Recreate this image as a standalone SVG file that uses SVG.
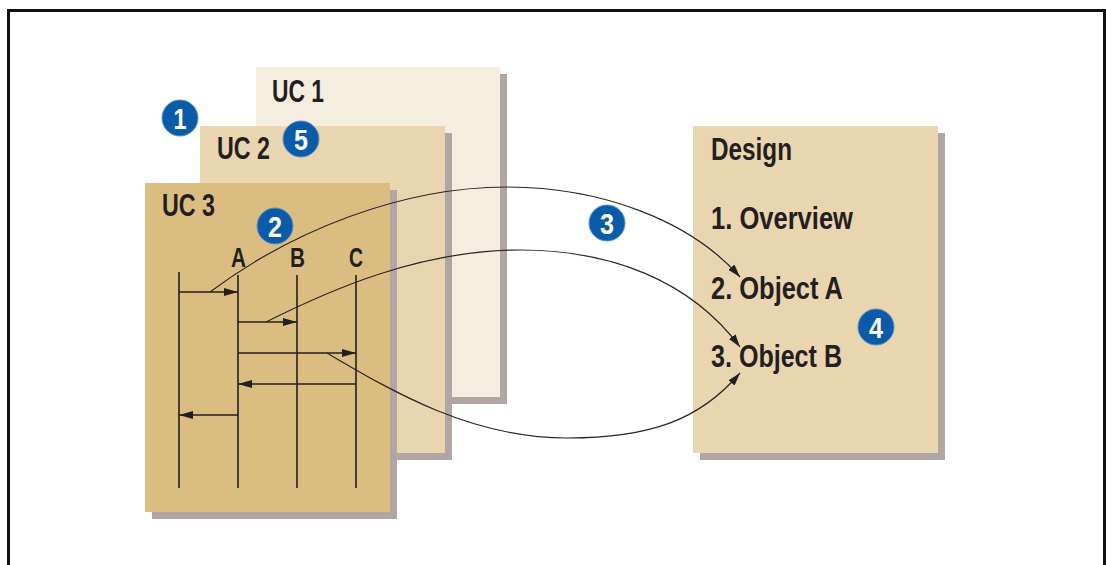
<svg xmlns="http://www.w3.org/2000/svg" width="1106" height="565" viewBox="0 0 1106 565">
  <style>
    .shadow { fill: #b2a6a4; }
    .lbl { font-family: "Liberation Sans Narrow", "Liberation Sans", Arial, sans-serif; font-weight: bold; fill: #231f20; }
    .life { stroke: #231f20; stroke-width: 1.6; fill: none; }
    .msg { stroke: #231f20; stroke-width: 1.6; fill: none; marker-end: url(#msgHead); }
    .flow { stroke: #2a2627; stroke-width: 1.2; fill: none; marker-end: url(#flowHead); }
    .badge circle { fill: #0b5ca8; stroke: #5d8fc6; stroke-width: 1; }
    .badge text { font-family: "Liberation Sans Narrow", "Liberation Sans", Arial, sans-serif; font-weight: bold; font-size: 30px; fill: #ffffff; text-anchor: middle; }
  </style>
  <defs>
    <marker id="msgHead" viewBox="0 0 14 8" refX="14" refY="4" markerWidth="14" markerHeight="8" markerUnits="userSpaceOnUse" orient="auto">
      <path d="M0,0 L14,4 L0,8 Z" fill="#231f20"/>
    </marker>
    <marker id="flowHead" viewBox="0 0 13 8" refX="13" refY="4" markerWidth="13" markerHeight="8" markerUnits="userSpaceOnUse" orient="auto">
      <path d="M0,0 L13,4 L0,8 Z" fill="#231f20"/>
    </marker>
  </defs>

  <rect width="1106" height="565" fill="#ffffff"/>
  <!-- outer frame -->
  <rect x="8.5" y="10.5" width="1096" height="600" fill="none" stroke="#111111" stroke-width="3"/>

  <!-- use case page 1 -->
  <g id="uc1">
    <rect class="shadow" x="263" y="74" width="244" height="330"/>
    <rect x="256" y="67" width="244" height="330" fill="#f5ede0"/>
    <text class="lbl" x="272" y="102" font-size="31" textLength="52" lengthAdjust="spacingAndGlyphs">UC 1</text>
  </g>

  <!-- use case page 2 -->
  <g id="uc2">
    <rect class="shadow" x="207" y="133" width="245" height="327"/>
    <rect x="200" y="126" width="245" height="327" fill="#e9d5af"/>
    <text class="lbl" x="217" y="159" font-size="31" textLength="53" lengthAdjust="spacingAndGlyphs">UC 2</text>
  </g>

  <!-- use case page 3 with sequence diagram -->
  <g id="uc3">
    <rect class="shadow" x="152" y="190" width="245" height="329"/>
    <rect x="145" y="183" width="245" height="329" fill="#dcbd81"/>
    <text class="lbl" x="162" y="216" font-size="31" textLength="53" lengthAdjust="spacingAndGlyphs">UC 3</text>
    <text class="lbl" x="231" y="267" font-size="28" textLength="15" lengthAdjust="spacingAndGlyphs">A</text>
    <text class="lbl" x="290" y="267" font-size="28" textLength="15" lengthAdjust="spacingAndGlyphs">B</text>
    <text class="lbl" x="349" y="267" font-size="28" textLength="14" lengthAdjust="spacingAndGlyphs">C</text>
    <line class="life" x1="179" y1="272" x2="179" y2="488"/>
    <line class="life" x1="238" y1="275" x2="238" y2="488"/>
    <line class="life" x1="297" y1="275" x2="297" y2="488"/>
    <line class="life" x1="356" y1="275" x2="356" y2="488"/>
    <line class="msg" x1="179" y1="292" x2="238" y2="292"/>
    <line class="msg" x1="238" y1="322" x2="297" y2="322"/>
    <line class="msg" x1="238" y1="353" x2="356" y2="353"/>
    <line class="msg" x1="356" y1="384" x2="238" y2="384"/>
    <line class="msg" x1="238" y1="415" x2="179" y2="415"/>
  </g>

  <!-- design document -->
  <g id="design">
    <rect class="shadow" x="700" y="133" width="245" height="327"/>
    <rect x="693" y="126" width="245" height="327" fill="#e9d5af"/>
    <text class="lbl" x="711" y="160" font-size="31" textLength="81" lengthAdjust="spacingAndGlyphs">Design</text>
    <text class="lbl" x="711" y="229" font-size="31" textLength="142" lengthAdjust="spacingAndGlyphs">1. Overview</text>
    <text class="lbl" x="711" y="299" font-size="31" textLength="132" lengthAdjust="spacingAndGlyphs">2. Object A</text>
    <text class="lbl" x="711" y="367" font-size="31" textLength="131" lengthAdjust="spacingAndGlyphs">3. Object B</text>
  </g>

  <!-- traces from messages to design sections -->
  <g id="connectors">
    <path class="flow" d="M210,292 C290,232 400,187 507,187 C600,187 690,220 740,277"/>
    <path class="flow" d="M266,322 C330,290 420,250 520,250 C610,250 690,280 740,347"/>
    <path class="flow" d="M327,353 C390,390 470,438 567,438 C650,438 700,420 740,373"/>
  </g>

  <!-- numbered callouts -->
  <g id="badge1" class="badge"><circle cx="180" cy="118" r="18"/><text x="180" y="129" textLength="13" lengthAdjust="spacingAndGlyphs">1</text></g>
  <g id="badge5" class="badge"><circle cx="301" cy="139" r="18"/><text x="301" y="150" textLength="14" lengthAdjust="spacingAndGlyphs">5</text></g>
  <g id="badge2" class="badge"><circle cx="275" cy="226" r="18"/><text x="275" y="237" textLength="14" lengthAdjust="spacingAndGlyphs">2</text></g>
  <g id="badge3" class="badge"><circle cx="607" cy="223" r="18"/><text x="607" y="234" textLength="14" lengthAdjust="spacingAndGlyphs">3</text></g>
  <g id="badge4" class="badge"><circle cx="876" cy="327" r="18"/><text x="876" y="338" textLength="14" lengthAdjust="spacingAndGlyphs">4</text></g>
</svg>
